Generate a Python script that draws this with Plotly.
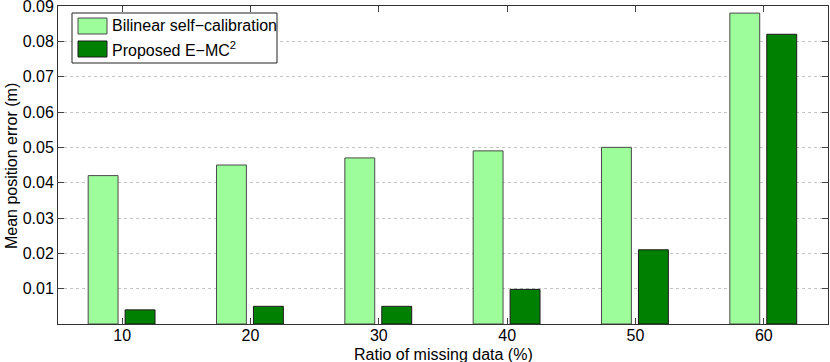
import plotly.graph_objects as go

ratios = [10, 20, 30, 40, 50, 60]
bilinear = [0.042, 0.045, 0.047, 0.049, 0.050, 0.088]
proposed = [0.004, 0.005, 0.005, 0.0098, 0.021, 0.082]
ytick_vals = [0.01, 0.02, 0.03, 0.04, 0.05, 0.06, 0.07, 0.08, 0.09]
ytick_text = ["0.01", "0.02", "0.03", "0.04", "0.05", "0.06", "0.07", "0.08", "0.09"]
series_names = ["Bilinear self\u2212calibration", "Proposed E\u2212MC<sup>2</sup>"]
series_colors = ["#9dfd9a", "#008000"]

FONT = "Liberation Sans, Arial, Helvetica, sans-serif"
W, H = 830, 362
L, R, T, B = 58, 2, 6, 38
PW, PH = W - L - R, H - T - B


def px(x):
    return (x - L) / PW


def py(y):
    return 1 - (y - T) / PH


fig = go.Figure()
fig.add_trace(go.Bar(
    x=ratios, y=bilinear, name=series_names[0],
    width=2.33, offset=-2.65,
    marker=dict(color=series_colors[0], line=dict(color="#4a4a4a", width=1)),
))
fig.add_trace(go.Bar(
    x=ratios, y=proposed, name=series_names[1],
    width=2.33, offset=0.23,
    marker=dict(color=series_colors[1], line=dict(color="#1a1a1a", width=1)),
))

shapes = [
    dict(type="rect", xref="paper", yref="paper", x0=px(72), x1=px(277), y0=py(13), y1=py(63),
         fillcolor="white", line=dict(color="#222", width=1), layer="above"),
    dict(type="rect", xref="paper", yref="paper", x0=px(78), x1=px(107), y0=py(18), y1=py(34),
         fillcolor=series_colors[0], line=dict(color="#4a4a4a", width=1), layer="above"),
    dict(type="rect", xref="paper", yref="paper", x0=px(78), x1=px(107), y0=py(41), y1=py(57),
         fillcolor=series_colors[1], line=dict(color="#1a1a1a", width=1), layer="above"),
]

annotations = [
    dict(text=series_names[0], xref="paper", yref="paper", x=px(110), y=py(26),
         xanchor="left", yanchor="middle", showarrow=False, font=dict(size=16)),
    dict(text=series_names[1], xref="paper", yref="paper", x=px(110), y=py(49),
         xanchor="left", yanchor="middle", showarrow=False, font=dict(size=16)),
    dict(text="Ratio of missing data (%)", xref="paper", yref="paper", x=0.5, y=py(354),
         xanchor="center", yanchor="middle", showarrow=False, font=dict(size=16)),
    dict(text="Mean position error (m)", xref="paper", yref="paper", x=px(11), y=py(166),
         xanchor="center", yanchor="middle", showarrow=False, textangle=-90, font=dict(size=16)),
]

fig.update_layout(
    width=W, height=H,
    margin=dict(l=L, r=R, t=T, b=B, autoexpand=False),
    paper_bgcolor="white", plot_bgcolor="white",
    font=dict(family=FONT, size=16, color="black"),
    barmode="overlay",
    showlegend=False,
    shapes=shapes,
    annotations=annotations,
    xaxis=dict(
        range=[5, 65], tickvals=ratios, ticktext=[str(r) for r in ratios],
        ticks="inside", ticklen=6, tickcolor="#444",
        showline=True, linecolor="#333", linewidth=1, mirror="ticks",
        showgrid=False, zeroline=False, automargin=False,
        tickfont=dict(size=16), ticklabeloverflow="allow", ticklabelstandoff=-3,
    ),
    yaxis=dict(
        range=[0, 0.09], tickvals=ytick_vals, ticktext=ytick_text,
        ticks="inside", ticklen=6, tickcolor="#444",
        showline=True, linecolor="#333", linewidth=1, mirror="ticks",
        showgrid=True, gridcolor="#c4c4c4", griddash="dot", gridwidth=1,
        zeroline=False, automargin=False,
        tickfont=dict(size=16), ticklabeloverflow="allow",
    ),
)

fig.write_html(
    "out.html",
    config={"displayModeBar": False},
    post_script="document.body.style.margin='0';document.body.style.padding='0';",
)
